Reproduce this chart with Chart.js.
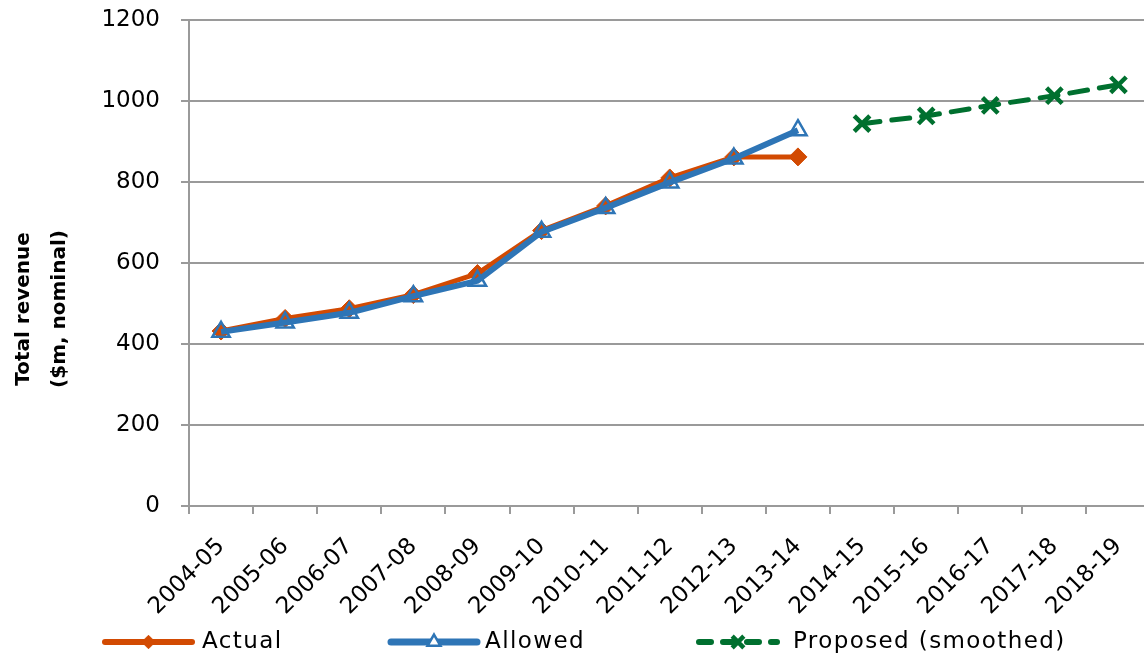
<!DOCTYPE html>
<html>
<head>
<meta charset="utf-8">
<script src="https://cdn.jsdelivr.net/npm/chart.js@4/dist/chart.umd.min.js"></script>
<style>
  html, body { margin: 0; padding: 0; background: #fff; overflow: hidden; }
  #c { display: block; }
</style>
</head>
<body>
<canvas id="c" width="1166" height="656"></canvas>
<script>
// Financial years
const years = ['2004-05','2005-06','2006-07','2007-08','2008-09','2009-10','2010-11',
               '2011-12','2012-13','2013-14','2014-15','2015-16','2016-17','2017-18','2018-19'];

// Total revenue, $m nominal
const actual   = [432, 463, 487, 522, 574, 680, 741, 810, 862, 862, null, null, null, null, null];
const allowed  = [430, 453, 477, 518, 556, 677, 736, 799, 858, 928, null, null, null, null, null];
const proposed = [null, null, null, null, null, null, null, null, null, null, 944, 963, 989, 1013, 1040];

const yTicks = [0, 200, 400, 600, 800, 1000, 1200];
const yTitle = ['Total revenue', '($m, nominal)'];

const ORANGE = '#D24A02';
const BLUE   = '#2E75B6';
const GREEN  = '#00702F';
const GRID   = '#9A9A9A';

const series = [
  { label: 'Actual', data: actual, color: ORANGE, width: 5, dash: [], style: 'rectRot', r: 9, bw: 1, fill: ORANGE, order: 3 },
  { label: 'Allowed', data: allowed, color: BLUE, width: 6, dash: [], style: 'triangle', r: 10, bw: 2.5, fill: 'rgba(0,0,0,0)', order: 2 },
  { label: 'Proposed (smoothed)', data: proposed, color: GREEN, width: 5, dash: [18, 12], style: 'crossRot', r: 11, bw: 4.5, fill: GREEN, order: 1 }
];

// Rotated two-line axis title on the left
const axisTitle = {
  id: 'axisTitle',
  afterDraw(chart) {
    const ctx = chart.ctx;
    ctx.save();
    ctx.fillStyle = '#000';
    ctx.font = 'bold 20px "DejaVu Sans"';
    ctx.textAlign = 'center';
    ctx.textBaseline = 'middle';
    const xs = [24, 60];
    yTitle.forEach((t, i) => {
      ctx.save();
      ctx.translate(xs[i], 309);
      ctx.rotate(-Math.PI / 2);
      ctx.fillText(t, 0, 0);
      ctx.restore();
    });
    ctx.restore();
  }
};

// Legend row under the category labels: line sample with its marker, then the name
const lineLegend = {
  id: 'lineLegend',
  afterDraw(chart) {
    const ctx = chart.ctx;
    const y = 642;
    const slots = [
      { x0: 105, x1: 192, tx: 202 },
      { x0: 391, x1: 477, tx: 485 },
      { x0: 699, x1: 777, tx: 793 }
    ];
    ctx.save();
    series.forEach((s, i) => {
      const sl = slots[i];
      ctx.strokeStyle = s.color;
      ctx.lineWidth = s.width + 1;
      ctx.lineCap = 'round';
      ctx.setLineDash(s.dash.length ? [12, 12] : []);
      ctx.beginPath();
      ctx.moveTo(sl.x0, y);
      ctx.lineTo(sl.x1, y);
      ctx.stroke();
      ctx.setLineDash([]);
      ctx.lineCap = 'butt';
      ctx.strokeStyle = s.color;
      ctx.fillStyle = s.style === 'triangle' ? '#fff' : s.fill;
      ctx.lineWidth = s.bw;
      Chart.helpers.drawPoint(ctx, { pointStyle: s.style, radius: s.r * 0.75, borderWidth: s.bw, rotation: 0 },
        (sl.x0 + sl.x1) / 2, y);
      ctx.fillStyle = '#000';
      ctx.font = '23px "DejaVu Sans"';
      ctx.letterSpacing = '1.4px';
      ctx.textAlign = 'left';
      ctx.textBaseline = 'middle';
      ctx.fillText(s.label, sl.tx, y);
      ctx.letterSpacing = '0px';
    });
    ctx.restore();
  }
};

new Chart(document.getElementById('c'), {
  type: 'line',
  data: {
    labels: years,
    datasets: series.map(s => ({
      label: s.label,
      data: s.data,
      borderColor: s.color,
      backgroundColor: s.fill,
      borderWidth: s.width,
      borderDash: s.dash,
      borderCapStyle: s.dash.length ? 'round' : 'butt',
      pointStyle: s.style,
      pointRadius: s.r,
      pointBorderWidth: s.bw,
      pointBorderColor: s.color,
      pointBackgroundColor: s.fill,
      tension: 0,
      spanGaps: false,
      order: s.order
    }))
  },
  options: {
    responsive: false,
    maintainAspectRatio: false,
    animation: false,
    devicePixelRatio: 1,
    layout: { padding: { left: 0, right: 1, top: 20, bottom: 0 } },
    plugins: {
      legend: { display: false },
      tooltip: { enabled: false }
    },
    scales: {
      x: {
        offset: true,
        grid: { display: true, drawOnChartArea: false, drawTicks: true, tickLength: 8, color: GRID, lineWidth: 2, offset: true },
        border: { display: true, color: GRID, width: 2 },
        ticks: { color: '#000', font: { family: 'DejaVu Sans', size: 23 }, minRotation: 45, maxRotation: 45, autoSkip: false, padding: 19 },
        afterFit(s) { s.height = 150; s.paddingLeft = 0; s.paddingRight = 0; }
      },
      y: {
        min: 0, max: 1200,
        afterBuildTicks(s) { s.ticks = yTicks.map(v => ({ value: v })); },
        grid: { color: GRID, lineWidth: 2, drawTicks: true, tickLength: 8 },
        border: { display: true, color: GRID, width: 2 },
        ticks: { color: '#000', font: { family: 'DejaVu Sans', size: 23 }, padding: 21, callback: v => String(v) },
        afterFit(s) { s.width = 189; s.paddingTop = 0; s.paddingBottom = 0; }
      }
    }
  },
  plugins: [axisTitle, lineLegend]
});
</script>
</body>
</html>
